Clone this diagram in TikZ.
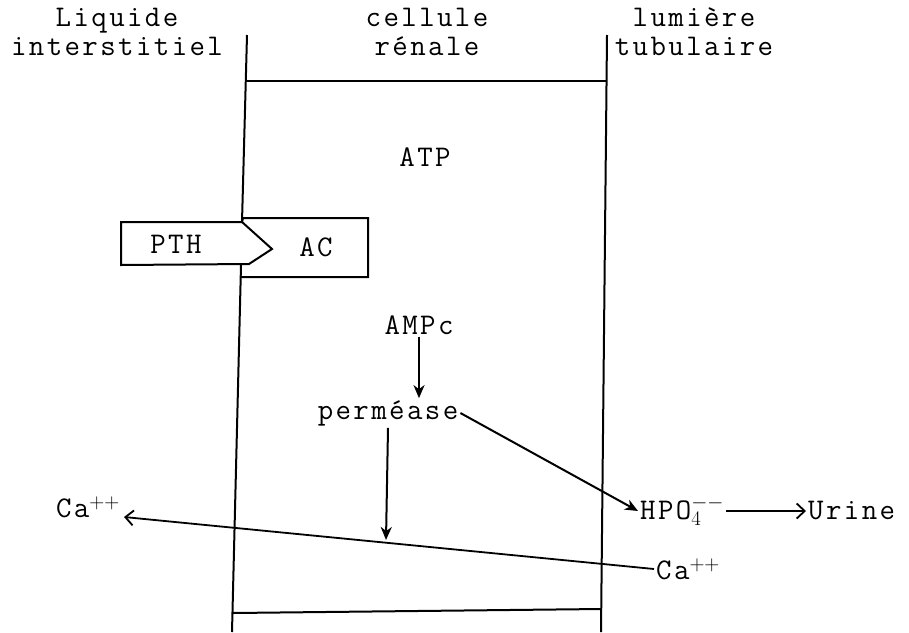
\documentclass[tikz,border=0pt]{standalone}
\usepackage{fontspec}
\setmonofont{Latin Modern Mono}[LetterSpace=8]
\usepackage{tikz}
\usetikzlibrary{arrows.meta}

\newcommand\labelfont{\fontsize{30}{29}\selectfont\ttfamily}

\tikzset{
    lbl/.style={font=\labelfont, inner sep=2pt},
    memb/.style={line width=2pt},
    flow/.style={line width=2pt, -{Stealth[length=13pt,width=11pt,inset=4pt]}},
    flowopen/.style={line width=1.8pt, -{Straight Barb[length=8pt,width=15pt]}}
}

\begin{document}
\begin{tikzpicture}[x=1pt,y=-1pt]

\useasboundingbox (0,0) rectangle (909,632);

% membranes
\draw[memb] (247,35) -- (242,222);
\draw[memb] (241,265) -- (232,632);
\draw[memb] (607,35) -- (601,632);
\draw[memb] (245,81) -- (606,81);
\draw[memb] (233,613) -- (601,609);

% PTH / AC
\draw[memb] (121,222) -- (242,222) -- (272,249) -- (249,264) -- (121,265) -- cycle;
\draw[memb] (242,222) -- (243,218) -- (368,218) -- (368,277) -- (241,277);

\node[lbl, align=center] (liquide) at (117,32) {Liquide\\interstitiel};
\node[lbl, align=center] (cellule) at (427,32) {cellule\\rénale};
\node[lbl, align=center] (lumiere) at (694,32) {lumière\\tubulaire};

\node[lbl] (atp) at (425,157) {ATP};
\node[lbl] (pth) at (176,244) {PTH};
\node[lbl] (ac) at (316,247) {AC};
\node[lbl] (ampc) at (419,325) {AMPc};
\node[lbl] (permease) at (388,413) {perméase};
\node[lbl] (caout) at (88,507) {Ca$^{++}$};
\node[lbl, anchor=west] (hpo) at (638,511) {HPO$_4^{--}$};
\node[lbl, anchor=west] (urine) at (806,511) {Urine};
\node[lbl, anchor=west] (cain) at (654,569) {Ca$^{++}$};
\coordinate (permend) at (386,540);

\draw[flow] (ampc.south) -- (ampc.south |- permease.north);
\draw[flow] (permease.south) -- (permend);
\draw[flow] (permease.east) -- (hpo.west);
\draw[flowopen] (hpo.east) -- (urine.west);
\draw[flowopen] (cain.west) -- ([xshift=2pt,yshift=-10pt]caout.east);

\end{tikzpicture}
\end{document}
